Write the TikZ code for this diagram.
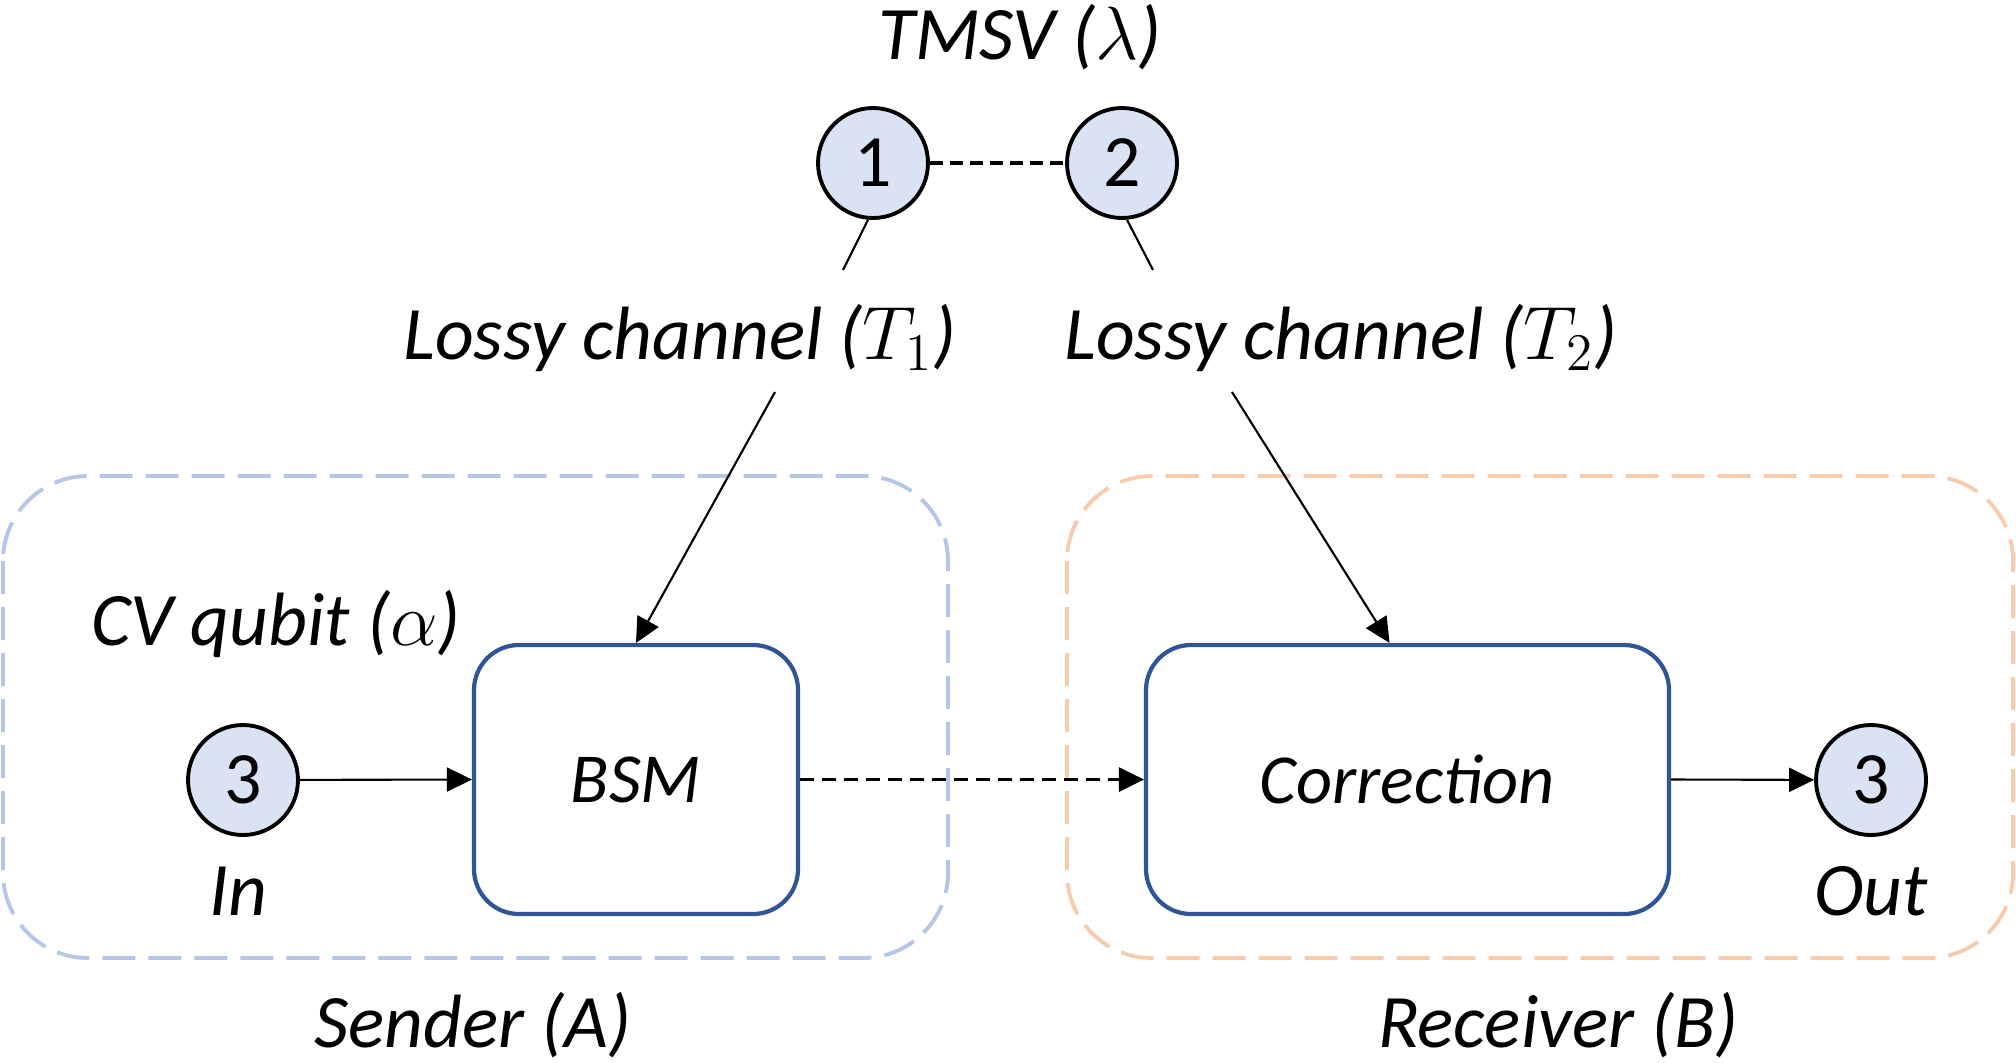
\documentclass[tikz,border=0pt]{standalone}
\usepackage{fix-cm}
\usepackage{fontspec}
\setmainfont{Carlito}
\usetikzlibrary{arrows.meta}
\definecolor{qfill}{HTML}{DAE3F3}
\definecolor{boxblue}{HTML}{2F5597}
\definecolor{sendcol}{HTML}{B4C7E7}
\definecolor{recvcol}{HTML}{F8CBAD}
\begin{document}
\begin{tikzpicture}[
    qnode/.style={circle, draw, fill=qfill, line width=1.1pt, minimum size=1.1cm, inner sep=0pt, font=\fontsize{21}{24}\selectfont},
    procbox/.style={draw=boxblue, line width=1.2pt, rounded corners=0.45cm, font=\fontsize{20}{24}\selectfont\itshape},
    lbl/.style={font=\fontsize{21.5}{26}\selectfont\itshape, inner sep=0pt},
    group/.style={line width=1.1pt, rounded corners=0.85cm, dash pattern=on 0.33cm off 0.13cm},
    conn/.style={line width=0.6pt, -{Triangle[length=0.25cm,width=0.24cm]}}
]
    \useasboundingbox (0,0) rectangle (20.16,-10.62);
\draw[group, sendcol] (0.03,-4.76) rectangle (9.48,-9.58);
\draw[group, recvcol] (10.67,-4.76) rectangle (20.13,-9.58);
\node[lbl] (tmsv) at (10.2,-0.37) {TMSV ($\lambda$)};
\node[qnode] (c1) at (8.73,-1.63) {1};
\node[qnode] (c2) at (11.22,-1.63) {2};
\draw[line width=1.1pt, dash pattern=on 0.13cm off 0.07cm] (c1) -- (c2);
\node[lbl] (ch1) at (6.80,-3.38) {Lossy channel ($T_1$)};
\node[lbl] (ch2) at (13.41,-3.38) {Lossy channel ($T_2$)};
\coordinate (k1) at (8.43,-2.70);
\coordinate (k2) at (11.53,-2.70);
\draw[line width=0.6pt] (c1.-95) -- (k1);
\draw[line width=0.6pt] (c2.-85) -- (k2);
\node[procbox, minimum width=3.24cm, minimum height=2.69cm] (bsm) at (6.36,-7.795) {BSM};
\node[procbox, minimum width=5.23cm, minimum height=2.69cm] (cor) at (14.075,-7.795) {Correction};
\coordinate (a1) at (7.75,-3.92);
\coordinate (a2) at (12.32,-3.92);
\draw[conn] (a1) -- (bsm.north);
\draw[conn] (a2) -- ([xshift=-0.18cm]cor.north);
\node[lbl] (cv) at (2.76,-6.24) {CV qubit ($\alpha$)};
\node[qnode] (qin) at (2.43,-7.80) {3};
\node[qnode] (qout) at (18.71,-7.80) {3};
\node[lbl] (inl) at (2.38,-8.91) {In};
\node[lbl] (outl) at (18.71,-8.91) {Out};
\draw[conn] (qin) -- (bsm.west);
\draw[conn, line width=0.85pt, dash pattern=on 0.14cm off 0.08cm] (bsm.east) -- (cor.west);
\draw[conn] (cor.east) -- (qout);
\node[lbl] (snd) at (4.73,-10.25) {Sender (A)};
\node[lbl] (rcv) at (15.58,-10.25) {Receiver (B)};
    \end{tikzpicture}
\end{document}
